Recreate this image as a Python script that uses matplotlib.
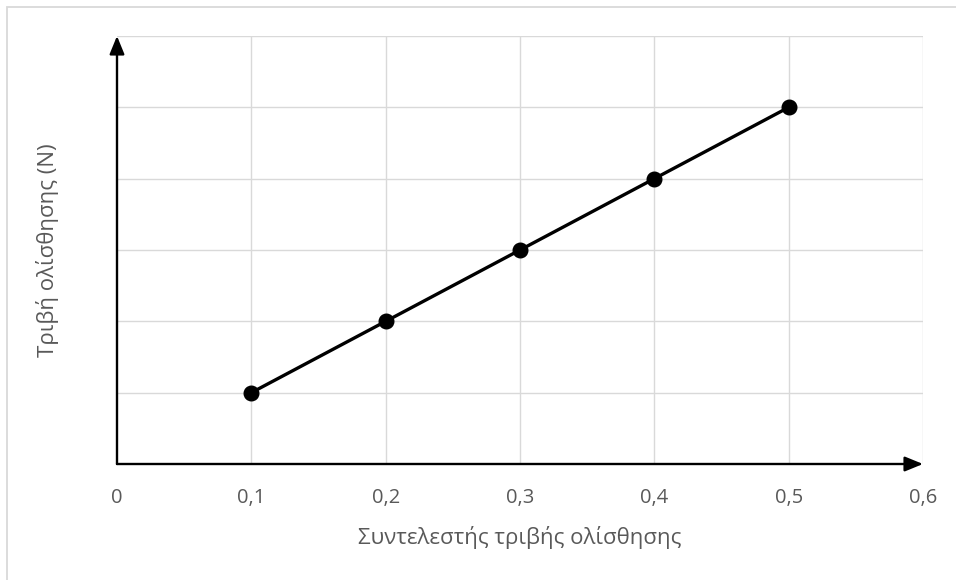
import matplotlib
matplotlib.use("Agg")
import matplotlib.pyplot as plt
from matplotlib.patches import Rectangle

plt.rcParams['font.family'] = ['Open Sans', 'DejaVu Sans']

x_vals = [0.1, 0.2, 0.3, 0.4, 0.5]
y_vals = [1, 2, 3, 4, 5]
x_ticks = [0, 0.1, 0.2, 0.3, 0.4, 0.5, 0.6]
x_tick_labels = ["0", "0,1", "0,2", "0,3", "0,4", "0,5", "0,6"]
y_grid = [1, 2, 3, 4, 5, 6]
x_label = "Συντελεστής τριβής ολίσθησης"
y_label = "Τριβή ολίσθησης (N)"

W, H = 956, 580
fig = plt.figure(figsize=(W / 100, H / 100), dpi=100)
fig.patch.set_facecolor('white')

# outer chart border (light gray, top-left visible)
fig.patches.append(Rectangle((7 / W, -0.1), 1.2, (H - 7) / H + 0.1,
                             transform=fig.transFigure, fill=False,
                             edgecolor='#d9d9d9', linewidth=1.3))

ax = fig.add_axes([117 / W, (H - 464) / H, (923 - 117) / W, (464 - 36) / H])
ax.set_xlim(0, 0.6)
ax.set_ylim(0, 6)

grid_c = '#d9d9d9'
for yv in y_grid:
    ax.axhline(yv, color=grid_c, linewidth=1.0, zorder=0)
for xv in x_ticks[1:]:
    ax.axvline(xv, color=grid_c, linewidth=1.0, zorder=0)

for s in ax.spines.values():
    s.set_visible(False)

ax.set_xticks(x_ticks)
ax.set_xticklabels(x_tick_labels)
ax.set_yticks([])
ax.tick_params(axis='x', length=0, pad=17, labelsize=14.5, labelcolor='#595959')

# axes with arrows
arrow_kw = dict(arrowstyle='-|>,head_length=1.1,head_width=0.45', color='black',
                linewidth=1.7, shrinkA=0, shrinkB=0)
ax.annotate('', xy=(0, 6), xytext=(0, 0), arrowprops=arrow_kw,
            annotation_clip=False, zorder=3)
ax.annotate('', xy=(0.6, 0), xytext=(0, 0), arrowprops=arrow_kw,
            annotation_clip=False, zorder=3)

ax.plot(x_vals, y_vals, color='black', linewidth=2.4, marker='o',
        markersize=10.5, zorder=4, clip_on=False)

ax.set_xlabel(x_label, fontsize=16, color='#595959', labelpad=13)
ax.set_ylabel(y_label, fontsize=16, color='#595959', labelpad=42)

fig.savefig('out.png', dpi=100, facecolor='white')
